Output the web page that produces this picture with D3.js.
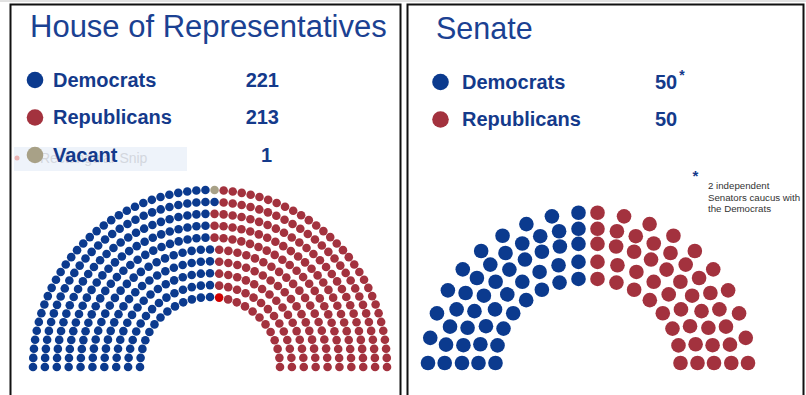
<!DOCTYPE html>
<html>
<head>
<meta charset="utf-8">
<script src="https://cdn.jsdelivr.net/npm/d3@7"></script>
<style>
  body { margin: 0; background: #fff; }
  svg { display: block; font-family: 'Liberation Sans', Arial, sans-serif; }
</style>
</head>
<body>
<svg id="chart" width="806" height="395"></svg>
<script>
// Data
const houseParties = ['Democrats', 'Republicans', 'Vacant'];
const houseSeats = [221, 213, 1];
const senateParties = ['Democrats', 'Republicans'];
const senateSeats = [50, 50];
const senateNote = ['2 independent', 'Senators caucus with', 'the Democrats'];

const color = d3.scaleOrdinal()
  .domain(['Democrats', 'Republicans', 'Vacant'])
  .range(['#0b3a8e', '#a3323e', '#a8a187']);
const highlight = '#d10000';
const ink = '#143a8b';
const titleInk = '#1b4192';

const svg = d3.select('#chart');

// frames
svg.append('line')
  .attr('x1', 0).attr('x2', 806).attr('y1', 1).attr('y2', 1)
  .attr('stroke', '#c4c4c4');
svg.append('rect')
  .attr('x', 10.5).attr('y', 4.5).attr('width', 390).attr('height', 420)
  .attr('fill', 'none').attr('stroke', '#111').attr('stroke-width', 2);
svg.append('rect')
  .attr('x', 407.5).attr('y', 4.5).attr('width', 396).attr('height', 420)
  .attr('fill', 'none').attr('stroke', '#111').attr('stroke-width', 2);

// titles
svg.append('text')
  .attr('x', 30).attr('y', 37)
  .attr('font-size', 31).attr('fill', titleInk)
  .text('House of Representatives');
svg.append('text')
  .attr('x', 436).attr('y', 39)
  .attr('font-size', 30.5).attr('fill', titleInk)
  .text('Senate');

// leftover snip box behind the vacant row
svg.append('rect')
  .attr('x', 14).attr('y', 147).attr('width', 173).attr('height', 24)
  .attr('fill', '#eef3fa');
svg.append('circle')
  .attr('cx', 17).attr('cy', 158).attr('r', 2.5).attr('fill', '#e9b3b3');
svg.append('text')
  .attr('x', 40).attr('y', 163)
  .attr('font-size', 14).attr('fill', '#d3d7de')
  .text('Rectangular Snip');

// legends
const drawLegend = (parties, seats, opts) => {
  const g = svg.append('g');
  const rows = g.selectAll('g')
    .data(parties.map((p, i) => ({ party: p, seats: seats[i], i })))
    .join('g')
    .attr('transform', d => `translate(0,${opts.y[d.i]})`);

  rows.append('circle')
    .attr('cx', opts.dotX).attr('cy', 0).attr('r', 8.3)
    .attr('fill', d => color(d.party));

  rows.append('text')
    .attr('x', opts.labelX).attr('y', 6.5)
    .attr('font-size', 20).attr('font-weight', 'bold').attr('fill', ink)
    .text(d => d.party);

  const num = rows.append('text')
    .attr('x', d => opts.valueX[d.i]).attr('y', 6.5)
    .attr('text-anchor', opts.anchor)
    .attr('font-size', 20).attr('font-weight', 'bold').attr('fill', ink)
    .text(d => d.seats);
  return num;
};

drawLegend(houseParties, houseSeats, {
  y: [80, 117.5, 155], dotX: 35, labelX: 53, valueX: [279, 279, 272], anchor: 'end',
});

const senateNums = drawLegend(senateParties, senateSeats, {
  y: [82, 119.5], dotX: 440.5, labelX: 462, valueX: [655, 655], anchor: 'start',
});
senateNums.filter(d => d.party === 'Democrats')
  .append('tspan')
  .attr('dx', 2).attr('dy', -9).attr('font-size', 14)
  .text('*');

// note
svg.append('text')
  .attr('x', 695.5).attr('y', 181)
  .attr('text-anchor', 'middle')
  .attr('font-size', 15).attr('font-weight', 'bold').attr('fill', ink)
  .text('*');
svg.append('g').selectAll('text')
  .data(senateNote)
  .join('text')
  .attr('x', 708).attr('y', (d, i) => 189 + i * 11.6)
  .attr('font-size', 9.7).attr('fill', '#333')
  .text(d => d);

// House hemicycle
const house = { cx: 210, cy: 367, rows: 10, inner: 70, outer: 177, dot: 4.3 };

const houseLayout = () => {
  const total = d3.sum(houseSeats);
  const radius = d3.scaleLinear().domain([0, house.rows - 1]).range([house.inner, house.outer]);
  const radii = d3.range(house.rows).map(radius);
  const sumR = d3.sum(radii);
  const raw = radii.map(r => total * r / sumR);
  const counts = raw.map(Math.floor);
  const rest = total - d3.sum(counts);
  d3.range(house.rows)
    .sort((a, b) => (raw[b] - counts[b]) - (raw[a] - counts[a]))
    .slice(0, rest)
    .forEach(i => counts[i]++);

  const seats = [];
  counts.forEach((n, row) => {
    const angle = d3.scaleLinear().domain([0, n - 1]).range([Math.PI, 0]);
    d3.range(n).forEach(j => seats.push({ row, r: radii[row], a: angle(j) }));
  });

  // vacant seat: top of the outer row, just right of centre
  const vacant = d3.greatest(
    seats.filter(s => s.row === house.rows - 1 && s.a < Math.PI / 2 - 1e-6),
    s => s.a);
  vacant.party = 'Vacant';

  const ordered = seats.filter(s => s !== vacant)
    .sort((a, b) => d3.descending(a.a, b.a) || d3.ascending(a.row, b.row));
  ordered.forEach((s, i) => {
    s.party = i < houseSeats[0] ? 'Democrats' : 'Republicans';
  });

  const marked = d3.greatest(
    seats.filter(s => s.row === 0 && s.party === 'Republicans'), s => s.a);
  marked.mark = true;
  return seats;
};

svg.append('g').selectAll('circle')
  .data(houseLayout())
  .join('circle')
  .attr('cx', d => house.cx + d.r * Math.cos(d.a))
  .attr('cy', d => house.cy - d.r * Math.sin(d.a))
  .attr('r', house.dot)
  .attr('fill', d => d.mark ? highlight : color(d.party));

// Senate hemicycle
const senate = {
  cx: 588, cy: 363, gap: 9.5, dot: 7.3,
  halfRow: [8, 9, 11, 12, 10],
  rx: [92.5, 109.5, 126, 143.3, 160],
  ry: [84.5, 101.5, 119.5, 134.5, 150.5],
};

const senateLayout = () => {
  const seats = [];
  senate.halfRow.forEach((n, row) => {
    const end = Math.acos(-senate.gap / senate.rx[row]);
    const angle = d3.scaleLinear().domain([0, n - 1]).range([Math.PI, end]);
    d3.range(n).forEach(j => {
      seats.push({ row, a: angle(j) });
      seats.push({ row, a: Math.PI - angle(j) });
    });
  });
  seats.sort((a, b) => d3.descending(a.a, b.a));
  seats.forEach((s, i) => {
    s.party = i < senateSeats[0] ? senateParties[0] : senateParties[1];
  });
  return seats;
};

svg.append('g').selectAll('circle')
  .data(senateLayout())
  .join('circle')
  .attr('cx', d => senate.cx + senate.rx[d.row] * Math.cos(d.a))
  .attr('cy', d => senate.cy - senate.ry[d.row] * Math.sin(d.a))
  .attr('r', senate.dot)
  .attr('fill', d => color(d.party));
</script>
</body>
</html>
